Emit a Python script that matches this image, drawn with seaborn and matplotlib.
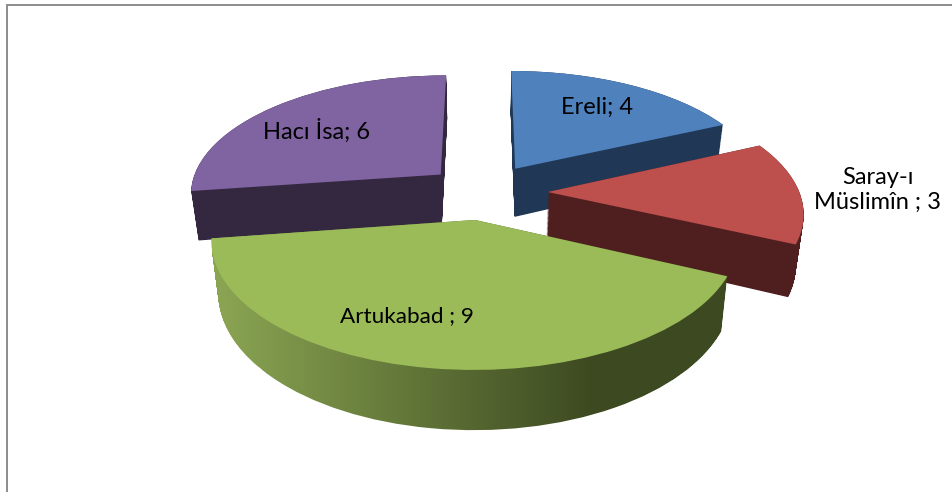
import numpy as np
import seaborn as sns
import matplotlib
matplotlib.use('Agg')
import matplotlib.pyplot as plt
from matplotlib.patches import PathPatch
from matplotlib.path import Path
from matplotlib.transforms import Transform
from matplotlib.colors import ListedColormap

# data
names = ['Ereli', 'Saray-ı\nMüslimîn ', 'Artukabad ', 'Hacı İsa']
values = [4, 3, 9, 6]

top_colors = ['#4f81bd', '#bd4f4c', '#9bbb59', '#8064a2']
side_colors = ['#203856', '#4f1f1f', None, '#33283f']
explode = [0.24, 0.255, 0.23, 0.23]
label_pos = [(597, 107), (878, 190), (407, 316), (317, 131)]
label_size = [17, 17, 16.2, 17]
draw_order = [0, 3, 1, 2]

sns.set_theme(style='white')
plt.rcParams['font.family'] = ['Lato', 'DejaVu Sans']


# flat pie -> tilted disc, t=0 top face, t=1 bottom face (pixel coords)
class Tilt(Transform):
    input_dims = 2
    output_dims = 2

    def __init__(self, t=0.0):
        super().__init__()
        self.t = t

    def transform_non_affine(self, xy):
        xy = np.asarray(xy, dtype=float)
        w = 1 + 0.148 * xy[:, 1]
        u = 483.5 + 251.6 * xy[:, 0] / w
        v = 192 - 118.6 * xy[:, 1] / w
        u = u + self.t * (-0.025) * (u - 490)
        v = v + self.t * (0.06 * v + 38)
        return np.column_stack([u, v])


fig = plt.figure(figsize=(9.53, 4.92), dpi=100)
ax = fig.add_axes([0, 0, 1, 1])
wedges, _ = ax.pie(values, explode=explode, startangle=90, counterclock=False,
                   colors=top_colors, radius=1, wedgeprops={'linewidth': 0})
ax.set_aspect('auto')
ax.axis('off')

wall_cmap = ListedColormap(sns.blend_palette(['#8ba653', '#3d4a21'], 256))

for z, i in enumerate(draw_order):
    w = wedges[i]
    flat = w.get_patch_transform().transform_path(w.get_path())
    # side wall: same wedge stacked from bottom to top
    layers = [Tilt(t).transform_path(flat) for t in np.linspace(0, 1, 60)]
    wall = Path.make_compound_path(*layers)
    if side_colors[i] is None:
        clip = PathPatch(wall, transform=ax.transData, fc='none', ec='none')
        ax.add_patch(clip)
        ramp = np.clip(np.linspace(0, 1, 256) * 1.36, 0, 1).reshape(1, -1)
        img = ax.imshow(ramp, extent=(212, 728, 450, 200), cmap=wall_cmap, vmin=0, vmax=1,
                        aspect='auto', zorder=10 + 2 * z, interpolation='bilinear')
        img.set_clip_path(clip)
    else:
        ax.add_patch(PathPatch(wall, fc=side_colors[i], ec='none', lw=0, zorder=10 + 2 * z))
    w.set_transform(Tilt(0) + ax.transData)
    w.set_zorder(11 + 2 * z)

ax.set_xlim(0, 953)
ax.set_ylim(492, 0)

for name, val, (x, y), size in zip(names, values, label_pos, label_size):
    ax.text(x, y, f'{name}; {val}', ha='center', va='center', fontsize=size, color='black',
            zorder=30, linespacing=1.22)

# frame of the chart area (top and left only are in the picture)
ax.plot([7, 7, 953], [492, 5, 5], color='#8c8c8c', lw=1.4, zorder=40, clip_on=False,
        solid_joinstyle='miter')

fig.savefig('out.png', dpi=100)
